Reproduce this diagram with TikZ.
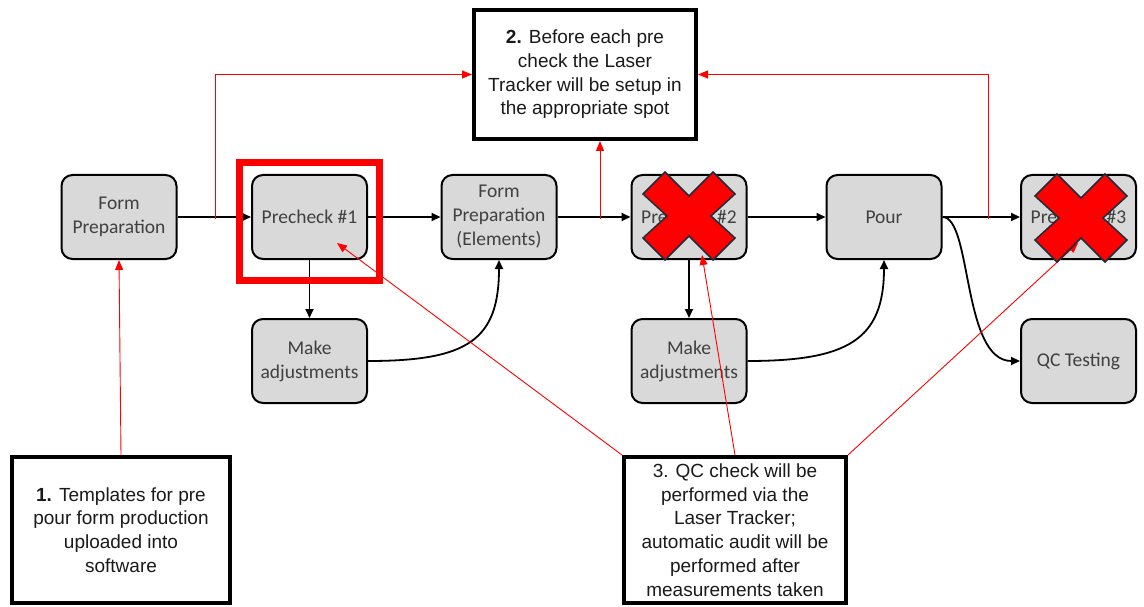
\documentclass[tikz,border=0pt]{standalone}
\usepackage{fontspec}
\setmainfont{Liberation Sans}
\newfontfamily\calibri{Carlito}
\usetikzlibrary{arrows.meta,calc}
\definecolor{boxgray}{HTML}{D9D9D9}
\definecolor{boxtext}{HTML}{404040}
\definecolor{xedge}{HTML}{1C2E3C}
\definecolor{notetext}{HTML}{1A1A1A}

\begin{document}
\begin{tikzpicture}[x=1pt,y=-1pt,
  stepbox/.style={draw=black, line width=2pt, fill=boxgray, rounded corners=11pt,
    minimum width=115pt, minimum height=84pt, inner sep=2pt, align=center,
    text=boxtext, font=\calibri\fontsize{19.5}{24}\selectfont},
  notebox/.style={draw=black, line width=4pt, fill=white, align=center, inner sep=0pt,
    text=notetext, font=\fontsize{19}{23.7}\selectfont},
  flow/.style={draw=black, line width=1.8pt, -{Triangle[length=9pt,width=8pt]}},
  pointer/.style={draw=red, line width=0.9pt, -{Triangle[length=10pt,width=8pt]}},
  redframe/.style={draw=red, line width=7pt},
  xmark/.pic={
    \draw[fill=red, draw=xedge, line width=1.5pt, line join=miter]
      (-46,-22) -- (-24,-44) -- (0,-20) -- (24,-44) -- (46,-22) -- (22,0)
      -- (46,22) -- (24,44) -- (0,20) -- (-24,44) -- (-46,22) -- (-22,0) -- cycle;
  }]
  \useasboundingbox (0,0) rectangle (1144,607);

  % process steps
  \node[stepbox] (fp)   at (119,217)    {Form\\Preparation};
  \node[stepbox] (p1)   at (309.5,217)  {Precheck \#1};
  \node[stepbox] (fpe)  at (499,217)    {Form\\Preparation\\(Elements)};
  \node[stepbox] (p2)   at (689,217)    {Precheck \#2};
  \node[stepbox] (pour) at (884,217)    {Pour};
  \node[stepbox] (p3)   at (1078.5,217) {Precheck \#3};
  \node[stepbox] (ma1)  at (309.5,361)  {Make\\adjustments};
  \node[stepbox] (ma2)  at (689,361)    {Make\\adjustments};
  \node[stepbox] (qc)   at (1078.5,361) {QC Testing};

  % main flow
  \draw[flow] (fp) -- (p1);
  \draw[flow] (p1) -- (fpe);
  \draw[flow] (fpe) -- (p2);
  \draw[flow] (p2) -- (pour);
  \draw[flow] (pour) -- (p3);
  \draw[flow] (p1) -- (ma1);
  \draw[flow] (p2) -- (ma2);
  \draw[flow] (ma1.east) .. controls +(100,0) and +(0,80) .. (fpe.south);
  \draw[flow] (ma2.east) .. controls +(100,0) and +(0,80) .. (pour.south);
  \draw[flow] (pour.east) .. controls (972,217) and (962,361) .. (qc.west);

  % annotations
  \node[notebox, minimum width=222pt, minimum height=129pt] (note2) at (585,74.5)
    {\textbf{2.} Before each pre\\check the Laser\\Tracker will be setup in\\the appropriate spot};
  \node[notebox, minimum width=218pt, minimum height=146pt] (note1) at (121,530)
    {\textbf{1.} Templates for pre\\pour form production\\uploaded into\\software};
  \node[notebox, minimum width=222pt, minimum height=146pt] (note3) at (735,530)
    {3. QC check will be\\performed via the\\Laser Tracker;\\automatic audit will be\\performed after\\measurements taken};

  % points where the annotation leaders leave the flow
  \coordinate (tapA) at (215.5,219);
  \coordinate (tapB) at (600,219);
  \coordinate (tapC) at (988,219);
  \coordinate (hit1) at (337,243);
  \coordinate (hit2) at (702,255);
  \coordinate (hit3) at (1078,243);

  \draw[pointer] (note1.north) -- (fp.south);
  \draw[pointer] (tapA) |- (note2.west);
  \draw[pointer] (tapC) |- (note2.east);
  \draw[pointer] (tapB) -- (tapB |- note2.south);
  \draw[pointer] (note3.north west) -- (hit1);
  \draw[pointer] (note3.north) -- (hit2);
  \draw[pointer] (note3.north east) -- (hit3);

  % crossed-out prechecks
  \pic at (689,216) {xmark};
  \pic at (1081,218) {xmark};

  % highlight frame round the first precheck
  \draw[redframe] ($(p1.north west)+(-11.5,-11.5)$) rectangle ($(p1.south east)+(11.5,20.5)$);
\end{tikzpicture}
\end{document}
